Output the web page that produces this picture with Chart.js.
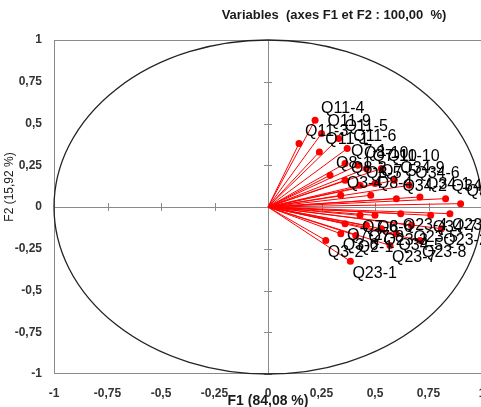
<!DOCTYPE html>
<html>
<head>
<meta charset="utf-8">
<script src="https://cdn.jsdelivr.net/npm/chart.js@4.4.1/dist/chart.umd.min.js"></script>
<style>
  html, body { margin: 0; padding: 0; background: #fff; overflow: hidden; }
  #wrap { width: 481px; height: 407px; overflow: hidden; }
</style>
</head>
<body>
<div id="wrap"><canvas id="corr" width="486" height="407"></canvas></div>
<script>
/* Correlation circle F1 x F2 */

const names = [
  "Q11-4", "Q11-3", "Q11-9", "Q11-5", "Q11-6", "Q11-1", "Q7-1", "Q8-10", "Q7-10", "Q11-10",
  "Q8-1", "Q8-2", "Q8-5", "Q7-5", "Q34-9", "Q34-6", "Q3-4", "Q8-4", "Q34-2", "Q34-1",
  "Q34-4", "Q34-8",
  "Q23-1", "Q3-2", "Q3-6", "Q2-1", "Q7-2", "Q7-8", "Q23-3", "Q34-5", "Q23-5", "Q34-7",
  "Q23-6", "Q8-6", "Q23-4", "Q7-6", "Q23-8", "Q23-2", "Q23-7"
];
const f1 = [
  0.22, 0.145, 0.25, 0.33, 0.37, 0.24, 0.36, 0.42, 0.46, 0.53,
  0.29, 0.36, 0.43, 0.50, 0.59, 0.66, 0.34, 0.48, 0.60, 0.71,
  0.83, 0.90,
  0.385, 0.27, 0.34, 0.41, 0.36, 0.46, 0.53, 0.60, 0.67, 0.76,
  0.85, 0.50, 0.62, 0.43, 0.71, 0.81, 0.57
];
const f2 = [
  0.52, 0.38, 0.44, 0.41, 0.35, 0.33, 0.26, 0.25, 0.23, 0.23,
  0.19, 0.16, 0.13, 0.14, 0.16, 0.13, 0.07, 0.07, 0.05, 0.06,
  0.05, 0.02,
  -0.325, -0.20, -0.16, -0.17, -0.10, -0.11, -0.13, -0.16, -0.11, -0.05,
  -0.04, -0.05, -0.04, -0.05, -0.20, -0.13, -0.23
];
const axisTicks = [-1, -0.75, -0.5, -0.25, 0, 0.25, 0.5, 0.75, 1];

const RED = "#ff0000";
const GRAY = "#8a8a8a";

function fmt(v) {
  return String(v).replace(".", ",");
}

const datasets = names.map((n, i) => ({
  label: n,
  data: [{ x: 0, y: 0 }, { x: f1[i], y: f2[i] }],
  showLine: true,
  borderColor: RED,
  borderWidth: 1,
  backgroundColor: RED,
  pointRadius: [0, 3.5],
  pointBorderWidth: 0,
}));

const decorPlugin = {
  id: "decor",
  beforeDatasetsDraw(chart) {
    const { ctx, chartArea: a, scales: { x, y } } = chart;
    const x0 = x.getPixelForValue(0);
    const y0 = y.getPixelForValue(0);
    ctx.save();
    // frame
    ctx.strokeStyle = GRAY;
    ctx.lineWidth = 1;
    ctx.strokeRect(a.left + 0.5, a.top + 0.5, a.right - a.left - 1, a.bottom - a.top - 1);
    // center axes
    ctx.beginPath();
    ctx.moveTo(Math.round(x0) + 0.5, a.top);
    ctx.lineTo(Math.round(x0) + 0.5, a.bottom);
    ctx.moveTo(a.left, Math.round(y0) + 0.5);
    ctx.lineTo(a.right, Math.round(y0) + 0.5);
    axisTicks.forEach((t) => {
      const px = Math.round(x.getPixelForValue(t)) + 0.5;
      const py = Math.round(y.getPixelForValue(t)) + 0.5;
      ctx.moveTo(px, y0 - 4);
      ctx.lineTo(px, y0 + 4);
      ctx.moveTo(x0 - 4, py);
      ctx.lineTo(x0 + 4, py);
    });
    ctx.stroke();
    // unit circle
    ctx.beginPath();
    ctx.strokeStyle = "#222";
    ctx.lineWidth = 1.3;
    ctx.ellipse(x0, y0, x.getPixelForValue(1) - x0, y0 - y.getPixelForValue(1), 0, 0, Math.PI * 2);
    ctx.stroke();
    ctx.restore();
  },
  afterDatasetsDraw(chart) {
    const { ctx, scales: { x, y } } = chart;
    ctx.save();
    ctx.font = "16px 'Liberation Sans', Arial, sans-serif";
    ctx.fillStyle = "#000";
    ctx.textAlign = "left";
    names.forEach((n, i) => {
      const px = x.getPixelForValue(f1[i]);
      const py = y.getPixelForValue(f2[i]);
      if (f2[i] >= 0) {
        ctx.textBaseline = "bottom";
        ctx.fillText(n, px + 6, py - 4);
      } else {
        ctx.textBaseline = "top";
        ctx.fillText(n, px + 2, py + 4);
      }
    });
    // titles
    ctx.fillStyle = "#1a1a1a";
    ctx.textBaseline = "middle";
    ctx.textAlign = "center";
    ctx.font = "bold 13px 'Liberation Sans', Arial, sans-serif";
    ctx.fillText("Variables  (axes F1 et F2 : 100,00  %)", 334, 15);
    ctx.font = "bold 14px 'Liberation Sans', Arial, sans-serif";
    ctx.fillText("F1 (84,08 %)", 268, 401);
    ctx.translate(10, 187);
    ctx.rotate(-Math.PI / 2);
    ctx.font = "12px 'Liberation Sans', Arial, sans-serif";
    ctx.fillText("F2 (15,92 %)", 0, 0);
    ctx.restore();
  },
};

const tickFont = { family: "'Liberation Sans', Arial, sans-serif", size: 12, weight: "bold" };

new Chart(document.getElementById("corr"), {
  type: "scatter",
  data: { datasets },
  options: {
    responsive: false,
    animation: false,
    layout: { padding: { top: 40, right: 0, left: 0, bottom: 0 } },
    plugins: { legend: { display: false }, tooltip: { enabled: false } },
    scales: {
      x: {
        min: -1,
        max: 1,
        afterBuildTicks: (s) => { s.ticks = axisTicks.map((v) => ({ value: v })); },
        afterFit: (s) => { s.height = 33; s.paddingLeft = 0; s.paddingRight = 0; },
        grid: { display: false, drawTicks: false },
        border: { display: false },
        ticks: { padding: 12, color: "#333", font: tickFont, maxRotation: 0, autoSkip: false, callback: (v) => fmt(v) },
      },
      y: {
        min: -1,
        max: 1,
        afterBuildTicks: (s) => { s.ticks = axisTicks.map((v) => ({ value: v })); },
        afterFit: (s) => { s.width = 54; s.paddingTop = 0; s.paddingBottom = 0; },
        grid: { display: false, drawTicks: false },
        border: { display: false },
        ticks: { padding: 12, color: "#333", font: tickFont, autoSkip: false, callback: (v) => fmt(v) },
      },
    },
  },
  plugins: [decorPlugin],
});
</script>
</body>
</html>
